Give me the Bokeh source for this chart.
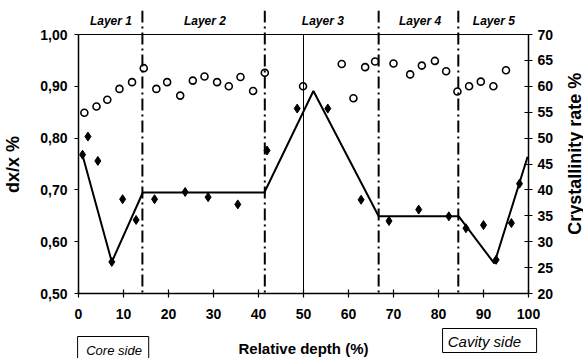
import math
from bokeh.plotting import figure
from bokeh.layouts import column, row
from bokeh.models import (Range1d, LinearAxis, FixedTicker, CustomJSTickFormatter,
                          Label, Span)
from bokeh.embed import file_html
from bokeh.resources import INLINE

# ---- data ----
circle_depth = [1.3, 4.0, 6.4, 9.1, 11.9, 14.5, 17.3, 19.7, 22.6, 25.4, 28.0, 30.8, 33.4,
                36.0, 38.8, 41.4, 49.9, 58.5, 61.1, 63.7, 65.9, 70.0, 73.7, 76.3, 79.2,
                81.7, 84.2, 86.8, 89.4, 92.2, 95.0]
circle_dxx = [0.849, 0.861, 0.874, 0.895, 0.908, 0.935, 0.895, 0.908, 0.882, 0.911, 0.919,
              0.908, 0.900, 0.918, 0.891, 0.926, 0.900, 0.943, 0.877, 0.937, 0.948, 0.944,
              0.923, 0.940, 0.949, 0.929, 0.890, 0.900, 0.909, 0.900, 0.931]

diamond_depth = [0.9, 2.1, 4.3, 7.4, 9.8, 12.8, 16.9, 23.7, 28.8, 35.4, 41.9, 48.6, 55.4,
                 62.8, 69.0, 75.6, 82.3, 86.1, 90.0, 92.8, 96.2, 98.0]
diamond_cryst = [46.8, 50.3, 45.6, 26.1, 38.2, 34.2, 38.2, 39.6, 38.6, 37.2, 47.6, 55.7,
                 55.7, 38.1, 34.0, 36.2, 34.9, 32.6, 33.2, 26.5, 33.6, 41.2]

fit_depth = [0.7, 7.4, 14.3, 41.3, 52.2, 66.7, 84.5, 92.4, 99.8]
fit_cryst = [47.3, 26.1, 39.5, 39.5, 59.1, 34.9, 34.9, 25.8, 46.4]

layer_bounds = [14.2, 41.4, 66.7, 84.4]
mid_line = [50]
layer_names = ["Layer 1", "Layer 2", "Layer 3", "Layer 4", "Layer 5"]
layer_label_x = [7.2, 28.1, 54.3, 75.9, 92.3]

x_ticks = list(range(0, 101, 10))
left_ticks = [0.5, 0.6, 0.7, 0.8, 0.9, 1.0]
right_ticks = list(range(20, 71, 5))

FONT = "Liberation Sans"
NB = "\u00a0" * 5

W = 583
H_MAIN = 326
PX = 4.5            # pixels per depth unit
LEFT = 78
PY = 518.0          # pixels per dx/x unit
P_W = 558

p = figure(width=P_W, height=H_MAIN, x_range=Range1d(0, 100),
           y_range=Range1d(0.5, 0.5 + 283 / PY),
           output_backend="svg", toolbar_location=None,
           min_border_left=LEFT, min_border_right=P_W - LEFT - 450, min_border_top=10,
           min_border_bottom=33, outline_line_color=None)
p.xgrid.visible = False
p.ygrid.visible = False
p.extra_y_ranges = {"cr": Range1d(20, 20 + 100 * 283 / PY)}


def style_axis(ax):
    ax.axis_line_color = "black"
    ax.axis_line_width = 1.5
    ax.major_tick_line_color = "black"
    ax.major_tick_line_width = 1.2
    ax.major_tick_in = 4
    ax.major_tick_out = 4
    ax.minor_tick_line_color = None
    ax.major_label_text_font = FONT
    ax.major_label_text_font_style = "bold"
    ax.major_label_text_font_size = "14px"
    ax.major_label_text_color = "black"
    ax.axis_label_text_font = FONT
    ax.axis_label_text_font_style = "bold"
    ax.axis_label_text_font_size = "18px"
    ax.axis_label_text_color = "black"


xa = p.xaxis[0]
xa.ticker = FixedTicker(ticks=x_ticks)
style_axis(xa)
xa.major_label_standoff = 11

ya = p.yaxis[0]
ya.ticker = FixedTicker(ticks=left_ticks)
ya.bounds = (0.5, 1.0)
ya.formatter = CustomJSTickFormatter(code="return tick.toFixed(2).replace('.', ',');")
ya.axis_label = "dx/x %" + NB
style_axis(ya)
ya.major_tick_in = 0
ya.major_label_standoff = 7
ya.axis_label_standoff = 14

ra = LinearAxis(y_range_name="cr", bounds=(20, 70), ticker=FixedTicker(ticks=right_ticks))
style_axis(ra)
ra.major_label_standoff = 5
p.add_layout(ra, "right")

# top frame line at the top of the left axis
p.add_layout(Span(location=left_ticks[-1], dimension="width", line_color="black", line_width=1.2))

# layer boundaries
for b in layer_bounds:
    p.add_layout(Span(location=b, dimension="height", line_color="black", line_width=2,
                      line_dash="12 4 2 4"))
p.segment(x0=mid_line, y0=[left_ticks[0]], x1=mid_line, y1=[left_ticks[-1]],
          line_color="black", line_width=1)

# data
p.scatter(circle_depth, circle_dxx, marker="circle", size=7, fill_color=None,
          line_color="black", line_width=1.6)
p.line(fit_depth, fit_cryst, y_range_name="cr", line_color="black", line_width=2)
p.scatter(diamond_depth, diamond_cryst, y_range_name="cr", marker="diamond", size=9,
          fill_color="black", line_color="black")

for name, lx in zip(layer_names, layer_label_x):
    p.add_layout(Label(x=lx, y=1.0 + 14 / PY, text=name, text_font=FONT,
                       text_font_style="bold italic", text_font_size="12px",
                       text_align="center", text_baseline="middle", text_color="black"))

# ---- right strip: right axis title, read bottom to top ----
r = figure(width=W - P_W, height=H_MAIN, x_range=Range1d(0, W - P_W),
           y_range=Range1d(0, H_MAIN), output_backend="svg", toolbar_location=None,
           min_border=0, x_axis_location=None, y_axis_location=None,
           outline_line_color=None)
r.xgrid.visible = False
r.ygrid.visible = False
r.add_layout(Label(x=16, y=H_MAIN - 165, text="Crystallinity rate %", angle=math.pi / 2,
                   text_font=FONT, text_font_style="bold", text_font_size="18px",
                   text_align="center", text_baseline="middle", text_color="black"))

# ---- bottom strip: x-axis title and side boxes (same depth scale) ----
q = figure(width=W, height=32, x_range=Range1d(-LEFT / PX, (W - LEFT) / PX),
           y_range=Range1d(0, 32), output_backend="svg", toolbar_location=None,
           min_border=0, x_axis_location=None, y_axis_location=None,
           outline_line_color=None)
q.xgrid.visible = False
q.ygrid.visible = False
q.quad(left=[-0.2, 80.9], right=[15.6, 101.8], top=[22, 30], bottom=[-4, 6],
       fill_color=None, line_color="black", line_width=1)
q.add_layout(Label(x=50, y=10, text="Relative depth (%)", text_font=FONT,
                   text_font_style="bold", text_font_size="15px", text_align="center",
                   text_baseline="middle", text_color="black"))
q.add_layout(Label(x=7.9, y=8, text="Core side", text_font=FONT,
                   text_font_style="italic", text_font_size="13px", text_align="center",
                   text_baseline="middle", text_color="black"))
q.add_layout(Label(x=90.2, y=17, text="Cavity side", text_font=FONT,
                   text_font_style="italic", text_font_size="15px", text_align="center",
                   text_baseline="middle", text_color="black"))

layout = column(row(p, r, spacing=0), q, spacing=0)
open("out.html", "w").write(file_html(layout, INLINE))
